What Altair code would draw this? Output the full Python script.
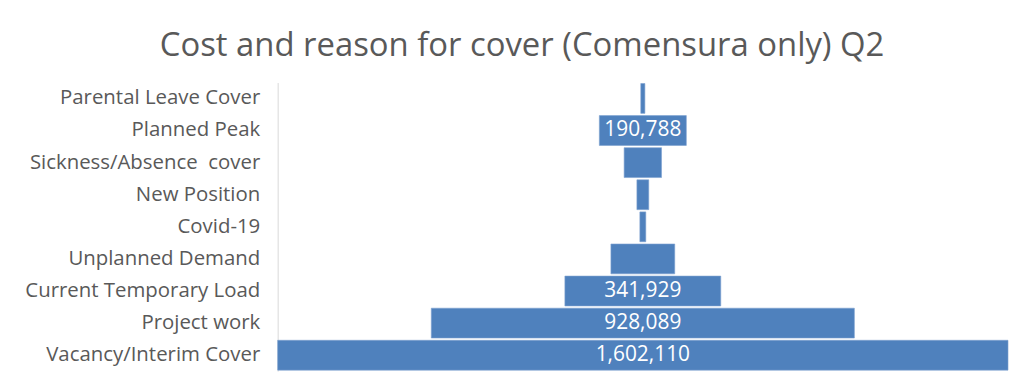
import altair as alt
import pandas as pd

categories = [
    "Parental Leave Cover",
    "Planned Peak",
    "Sickness/Absence\u00a0 cover",
    "New Position",
    "Covid-19",
    "Unplanned Demand",
    "Current Temporary Load",
    "Project work",
    "Vacancy/Interim Cover",
]
values = [9000, 190788, 82000, 26000, 13000, 140000, 341929, 928089, 1602110]

df = pd.DataFrame({"reason": categories, "cost": values})

half = max(values) / 2

base = alt.Chart(df).transform_calculate(
    lo="-datum.cost/2", hi="datum.cost/2",
    label="format(datum.cost, ',')"
)

y = alt.Y("reason:N", sort=categories, title=None,
          scale=alt.Scale(paddingInner=0.07, paddingOuter=0.03),
          axis=alt.Axis(labelFont="Open Sans", labelFontSize=20.5, labelColor="#595959",
                        labelPadding=18, ticks=False, domainColor="#d9d9d9",
                        minExtent=271, maxExtent=271, labelLimit=300))

bars = base.mark_bar(color="#4f81bd", stroke="#7da1d0", strokeWidth=0.6).encode(
    x=alt.X("lo:Q", scale=alt.Scale(domain=[-half, half], nice=False, zero=False), axis=None),
    x2="hi:Q",
    y=y,
)

text = base.transform_filter("datum.cost > 150000").mark_text(
    color="white", font="Open Sans", fontSize=21, baseline="middle", align="center"
).encode(
    x=alt.value(734 / 2),
    y=alt.Y("reason:N", sort=categories),
    text="label:N",
)

chart = alt.layer(bars, text).properties(
    width=734, height=290,
    background="white",
    title=alt.TitleParams("Cost and reason for cover (Comensura only) Q2",
                          font="Open Sans", fontSize=33, color="#595959",
                          fontWeight="normal", anchor="middle", frame="bounds",
                          offset=20, dx=14),
    padding={"left": 0, "top": 21, "right": 0, "bottom": 0},
).configure_view(strokeWidth=0, stroke="transparent")

chart.save("out.html", embed_options={"renderer": "svg", "actions": False})
